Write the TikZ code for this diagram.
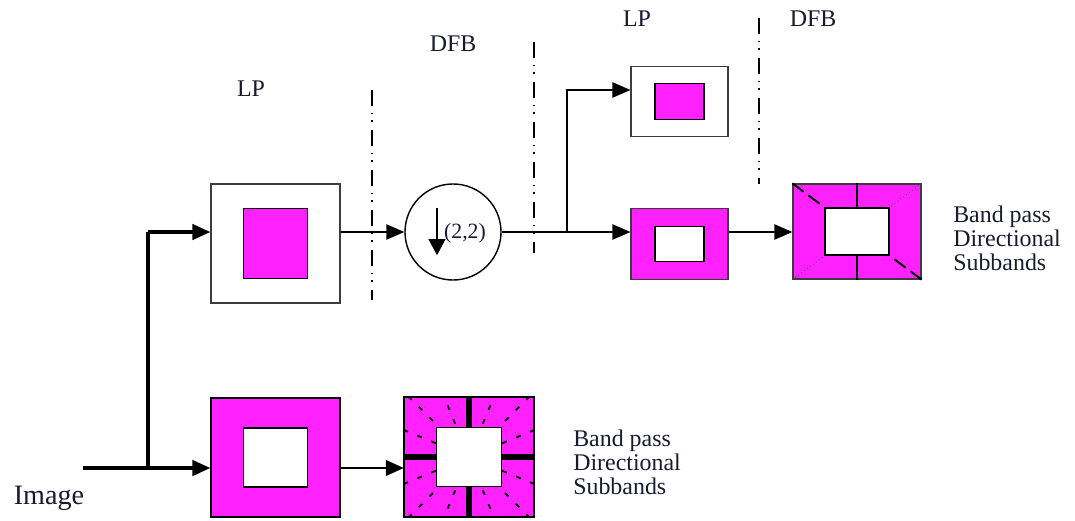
\documentclass[tikz,border=0pt]{standalone}
\usepackage{fontspec}
\setmainfont{Liberation Serif}
\usetikzlibrary{arrows.meta, calc}
\definecolor{BandPink}{RGB}{255, 34, 255}
\definecolor{InkNavy}{RGB}{25, 25, 50}
\definecolor{FrameGray}{RGB}{60, 60, 60}

\begin{document}
\begin{tikzpicture}[
    x=0.025cm, y=-0.025cm,
    every node/.style={font=\fontsize{17}{17}\selectfont, text=InkNavy, align=left, inner sep=0pt},
    bigbox/.style={draw=FrameGray, line width=0.9pt, fill=white,
                   minimum width=3.22cm, minimum height=2.98cm},
    smallbox/.style={draw=FrameGray, line width=0.9pt, fill=white,
                     minimum width=2.42cm, minimum height=1.76cm},
    core/.style={draw=black, line width=1.3pt},
    wire/.style={line width=1.2pt, -{Triangle[length=0.45cm, width=0.38cm]}},
    heavy/.style={line width=2.6pt},
    sep/.style={line width=1.3pt, dash pattern=on 0.4cm off 0.17cm on 0.04cm off 0.15cm on 0.04cm off 0.2cm},
    ray/.style={line width=1.3pt, dash pattern=on 0.125cm off 0.25cm, dash phase=0.225cm},
    bar/.style={line width=4.5pt}
]
\useasboundingbox (0,0) rectangle (1075,520);

% titles
\node (lpTitleA) at (251,88.5) {LP};
\node (dfbTitleA) at (453,43.5) {DFB};
\node (lpTitleB) at (637,19) {LP};
\node (dfbTitleB) at (813,19) {DFB};

% separators
\draw[sep] (372,90) -- (372,300);
\draw[sep] (534,42) -- (534,253);
\draw[sep] (759,18) -- (759,184);

% first stage
\node[bigbox] (lpA) at (275.5,243.5) {};
\node[core, fill=BandPink, minimum width=1.6cm, minimum height=1.75cm] (lpAcore) at (lpA.center) {};
\node[bigbox, fill=BandPink, draw=black] (lpB) at (275.5,457.5) {};
\node[core, fill=white, minimum width=1.6cm, minimum height=1.475cm] (lpBcore) at (lpB.center) {};

\node[bigbox, fill=BandPink, draw=black] (dfbA) at (469,457) {};
\begin{scope}
  \clip (dfbA.south west) rectangle (dfbA.north east);
  \foreach \a in {22.5,45,67.5,112.5,135,157.5,202.5,225,247.5,292.5,315,337.5}
    \draw[ray] (dfbA.center) -- ++(\a:2.6cm);
\end{scope}
\node[core, fill=white, minimum width=1.625cm, minimum height=1.475cm] (dfbAcore) at (dfbA.center) {};
\draw[bar] (dfbA.north) -- (dfbAcore.north);
\draw[bar] (dfbA.south) -- (dfbAcore.south);
\draw[bar] (dfbA.west) -- (dfbAcore.west);
\draw[bar] (dfbA.east) -- (dfbAcore.east);
\draw[line width=1pt] (dfbA.south west) rectangle (dfbA.north east);

\node[anchor=west] (bandA) at (573,462) {Band pass\\Directional\\Subbands};

% downsampler
\node[circle, draw, line width=1pt, minimum size=2.4cm] (down) at (453,232) {};
\draw[line width=0.8pt, -{Triangle[length=0.4cm, width=0.42cm]}]
    ([xshift=-0.4cm, yshift=0.6cm]down.center) -- ([xshift=-0.4cm, yshift=-0.58cm]down.center);
\node[font=\fontsize{15.5}{15.5}\selectfont] (factor) at (465,233) {(2,2)};

% second stage
\node[smallbox] (lpC) at (679.5,101.5) {};
\node[core, fill=BandPink, minimum width=1.225cm, minimum height=0.9cm] (lpCcore) at (lpC.center) {};
\node[smallbox, fill=BandPink] (lpD) at (679.5,244) {};
\node[core, fill=white, minimum width=1.225cm, minimum height=0.875cm] (lpDcore) at (lpD.center) {};

\node[draw=FrameGray, line width=0.9pt, fill=BandPink, minimum width=3.2cm, minimum height=2.375cm] (dfbB) at (857,231.5) {};
\node[core, fill=white, minimum width=1.6cm, minimum height=1.175cm] (dfbBcore) at (dfbB.center) {};
\draw[line width=1.2pt] (dfbB.north) -- (dfbBcore.north);
\draw[line width=1.2pt] (dfbB.south) -- (dfbBcore.south);
\draw[line width=1.4pt, dash pattern=on 0.35cm off 0.15cm] (dfbB.north west) -- (dfbBcore.north west);
\draw[line width=1.4pt, dash pattern=on 0.35cm off 0.15cm] (dfbB.south east) -- (dfbBcore.south east);
\draw[line width=0.6pt, dotted, black!70] (dfbB.north east) -- (dfbBcore.north east);
\draw[line width=0.6pt, dotted, black!70] (dfbB.south west) -- (dfbBcore.south west);

\node[anchor=west] (bandB) at (953,238) {Band pass\\Directional\\Subbands};

% input
\node[font=\fontsize{20}{20}\selectfont, anchor=base] (img) at (49,504) {Image};
\coordinate (src) at (83,468);
\coordinate (split) at (148,468);
\coordinate (splitup) at (148,232);
\coordinate (fork) at (567,232);
\coordinate (forkup) at (567,90);

% connectors
\draw[heavy] (src) -- (split);
\draw[heavy, line width=3pt] (split) -- (splitup);
\draw[wire, heavy] (split) -- (split -| lpB.west);
\draw[wire, heavy] (splitup) -- (splitup -| lpA.west);
\draw[wire, line width=2pt] (lpB.east |- split) -- (dfbA.west |- split);
\draw[wire] (lpA.east |- splitup) -- (down.west);
\draw[line width=1.2pt] (down.east) -- (fork);
\draw[wire] (fork) -- (forkup) -- (forkup -| lpC.west);
\draw[wire] (fork) -- (fork -| lpD.west);
\draw[wire] (lpD.east |- fork) -- (dfbB.west |- fork);
\end{tikzpicture}
\end{document}
